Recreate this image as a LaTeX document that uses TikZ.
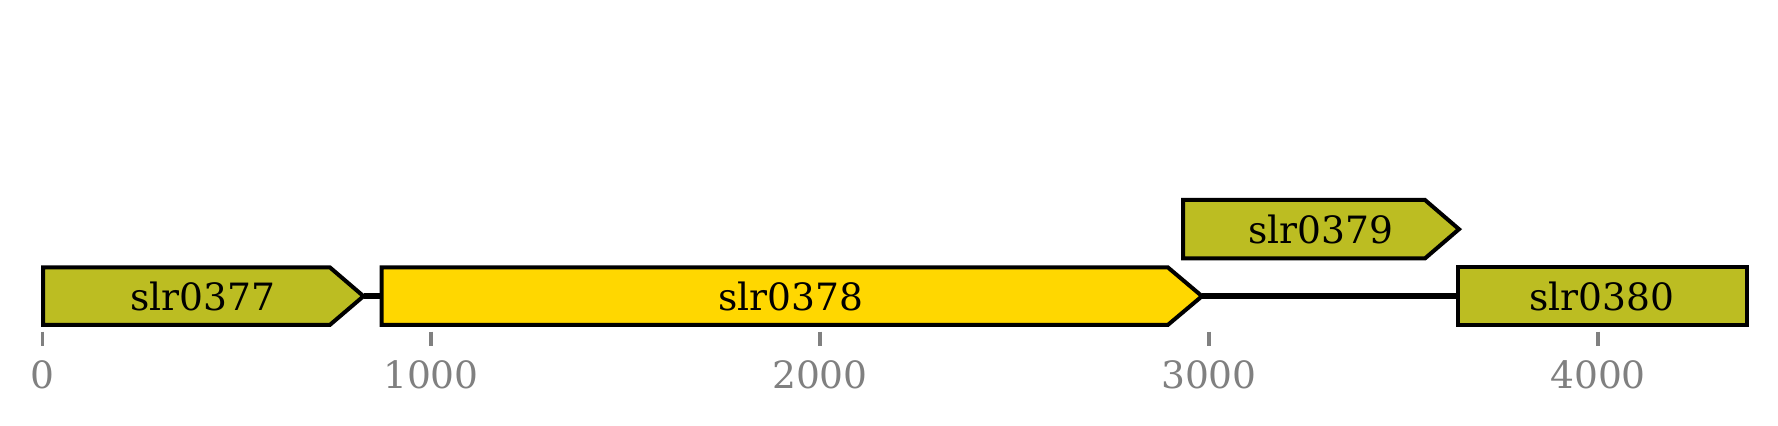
\documentclass[tikz,border=0pt]{standalone}
\usepackage{fontspec}
\setmainfont{DejaVu Serif}
\definecolor{olivegene}{HTML}{BCBD22}
\definecolor{goldgene}{HTML}{FFD700}
\definecolor{tickgray}{HTML}{808080}
\begin{document}
\begin{tikzpicture}[x=0.5pt,y=-0.5pt,
  gene/.style={draw=black,line width=2pt,line join=miter},
  conn/.style={draw=black,line width=2.8pt},
  genelabel/.style={font=\fontsize{18.8}{21}\selectfont,text=black,inner sep=0pt},
  tickline/.style={draw=tickgray,line width=1.7pt},
  ticklabel/.style={font=\fontsize{18.8}{21}\selectfont,text=tickgray,inner sep=0pt}]
\useasboundingbox (0,0) rectangle (1778,426);
% connection points
\coordinate (g377tip) at (363.5,296.2);
\coordinate (g378left) at (381.5,296.2);
\coordinate (g378tip) at (1202,296.2);
\coordinate (g380left) at (1458,296.2);
\draw[conn] (g377tip) -- (g378left);
\draw[conn] (g378tip) -- (g380left);
% genes
\draw[gene,fill=olivegene] (43,267.5) -- (330,267.5) -- (g377tip) -- (330,324.8) -- (43,324.8) -- cycle;
\draw[gene,fill=goldgene] (381.5,267.5) -- (1168,267.5) -- (g378tip) -- (1168,324.8) -- (381.5,324.8) -- cycle;
\draw[gene,fill=olivegene] (1183,200) -- (1425,200) -- (1459,229.2) -- (1425,258.4) -- (1183,258.4) -- cycle;
\draw[gene,fill=olivegene] (1458,267.5) rectangle (1747,324.8);
% labels
\node[genelabel] (l377) at (203,296.2) {slr0377};
\node[genelabel] (l378) at (791,296.2) {slr0378};
\node[genelabel] (l379) at (1321,229.2) {slr0379};
\node[genelabel] (l380) at (1602,296.2) {slr0380};
% ticks
\foreach \x/\t [count=\i] in {42.3/0,431/1000,820/2000,1209/3000,1598/4000}{
  \draw[tickline] (\x,331.7) -- (\x,345.7);
  \node[ticklabel] (t\i) at (\x,375) {\t};
}
\end{tikzpicture}
\end{document}
